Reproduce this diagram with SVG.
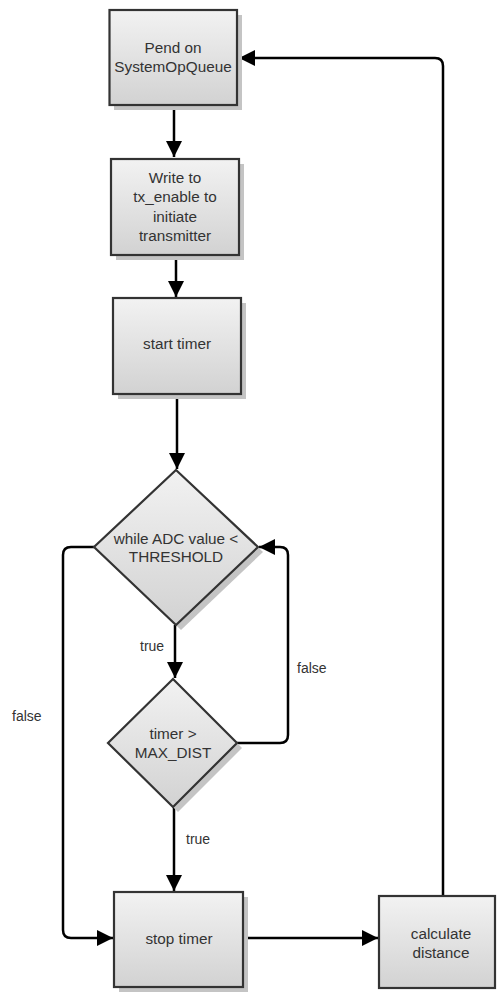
<svg xmlns="http://www.w3.org/2000/svg" width="498" height="992" viewBox="0 0 498 992">
  <defs>
    <linearGradient id="fillGrad" x1="0" y1="0" x2="0" y2="1">
      <stop offset="0" stop-color="#f2f2f2"/>
      <stop offset="1" stop-color="#d2d2d2"/>
    </linearGradient>
    <marker id="arrow" viewBox="0 0 16 16" refX="16" refY="8" markerWidth="16" markerHeight="16" markerUnits="userSpaceOnUse" orient="auto">
      <path d="M0,0 L16,8 L0,16 Z" fill="#000"/>
    </marker>
  </defs>
  <style>
    .shadow { fill: #c4c4c4; }
    .shape { fill: url(#fillGrad); stroke: #333; stroke-width: 2.2; }
    .txt { font-family: "Liberation Sans", Arial, sans-serif; font-size: 15.3px; fill: #333; text-anchor: middle; }
    .lbl { font-family: "Liberation Sans", Arial, sans-serif; font-size: 14px; fill: #333; }
    .conn { fill: none; stroke: #000; stroke-width: 2.5; stroke-linejoin: round; }
  </style>
  <rect width="498" height="992" fill="#fff"/>

  <g id="connectors">
    <path class="conn" d="M174,105 L174,157" marker-end="url(#arrow)"/>
    <path class="conn" d="M176,255 L176,297" marker-end="url(#arrow)"/>
    <path class="conn" d="M177,394 L177,469" marker-end="url(#arrow)"/>
    <path class="conn" d="M175,625 L175,678" marker-end="url(#arrow)"/>
    <path class="conn" d="M237,743 L280,743 Q288,743 288,735 L288,555 Q288,547 280,547 L259,547" marker-end="url(#arrow)"/>
    <path class="conn" d="M174,807 L174,891" marker-end="url(#arrow)"/>
    <path class="conn" d="M94,547 L71,547 Q63,547 63,555 L63,930 Q63,938 71,938 L113,938" marker-end="url(#arrow)"/>
    <path class="conn" d="M243,938 L378,938" marker-end="url(#arrow)"/>
    <path class="conn" d="M443,896 L443,66 Q443,58 435,58 L239,58" marker-end="url(#arrow)"/>
    <text class="lbl" x="140" y="651">true</text>
    <text class="lbl" x="297" y="673">false</text>
    <text class="lbl" x="186" y="844">true</text>
    <text class="lbl" x="12" y="721">false</text>
  </g>

  <g id="pend">
    <rect class="shadow" x="114" y="15" width="128" height="95"/>
    <rect class="shape" x="109.5" y="10" width="127.5" height="95"/>
    <text class="txt" x="173" y="53">Pend on</text>
    <text class="txt" x="173" y="72">SystemOpQueue</text>
  </g>

  <g id="write">
    <rect class="shadow" x="116" y="164" width="128" height="96"/>
    <rect class="shape" x="111" y="159" width="128" height="96"/>
    <text class="txt" x="175" y="183">Write to</text>
    <text class="txt" x="175" y="202">tx_enable to</text>
    <text class="txt" x="175" y="222">initiate</text>
    <text class="txt" x="175" y="241">transmitter</text>
  </g>

  <g id="start">
    <rect class="shadow" x="118" y="303" width="128" height="96"/>
    <rect class="shape" x="113" y="298" width="128" height="96"/>
    <text class="txt" x="177" y="349">start timer</text>
  </g>

  <g id="while">
    <polygon class="shadow" points="181,475 263,552 181,630 99,552"/>
    <polygon class="shape" points="176,470 258,547 176,625 94,547"/>
    <text class="txt" x="176" y="544">while ADC value &lt;</text>
    <text class="txt" x="176" y="562">THRESHOLD</text>
  </g>

  <g id="timeout">
    <polygon class="shadow" points="178,684 242,748 178,812 113,748"/>
    <polygon class="shape" points="173,679 237,743 173,807 108,743"/>
    <text class="txt" x="173" y="739">timer &gt;</text>
    <text class="txt" x="173" y="758">MAX_DIST</text>
  </g>

  <g id="stop">
    <rect class="shadow" x="119" y="897" width="129" height="95"/>
    <rect class="shape" x="114" y="892" width="129" height="95"/>
    <text class="txt" x="179" y="944">stop timer</text>
  </g>

  <g id="calc">
    <rect class="shape" x="379" y="896" width="116" height="92"/>
    <text class="txt" x="441" y="939">calculate</text>
    <text class="txt" x="441" y="958">distance</text>
  </g>
</svg>
